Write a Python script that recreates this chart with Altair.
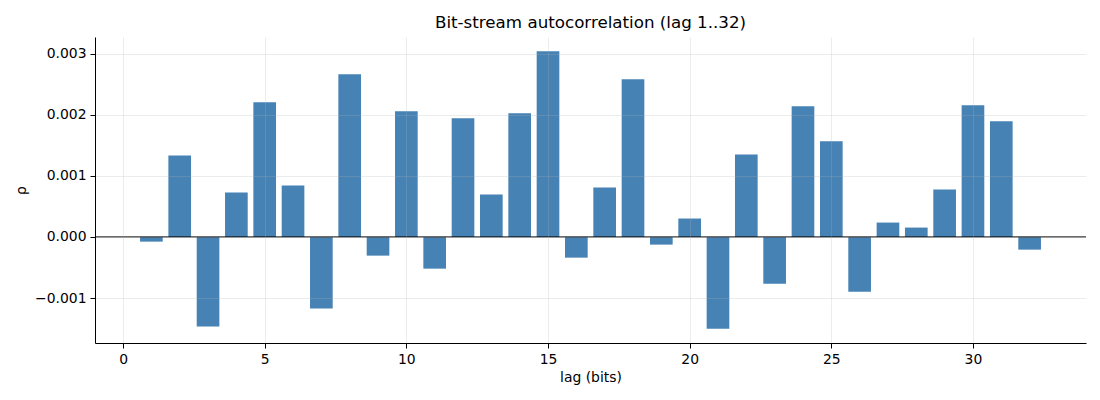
import altair as alt
import pandas as pd

lags = list(range(1, 33))
rho = [
    -0.077e-3, 1.333e-3, -1.464e-3, 0.727e-3, 2.202e-3, 0.842e-3, -1.169e-3, 2.661e-3,
    -0.306e-3, 2.055e-3, -0.519e-3, 1.940e-3, 0.694e-3, 2.022e-3, 3.038e-3, -0.339e-3,
    0.809e-3, 2.579e-3, -0.126e-3, 0.301e-3, -1.503e-3, 1.350e-3, -0.765e-3, 2.137e-3,
    1.563e-3, -0.896e-3, 0.235e-3, 0.153e-3, 0.776e-3, 2.153e-3, 1.891e-3, -0.208e-3,
]
x_ticks = [0, 5, 10, 15, 20, 25, 30]
y_ticks = [-0.001, 0.0, 0.001, 0.002, 0.003]

df = pd.DataFrame({"lag": lags, "rho": rho})

FONT = "DejaVu Sans"

xscale = alt.Scale(domain=[-0.99, 33.99], nice=False, zero=False)
yscale = alt.Scale(domain=[-0.001735, 0.00327], nice=False, zero=False)

bars = alt.Chart(df).transform_calculate(
    x0="datum.lag - 0.4", x1="datum.lag + 0.4"
).mark_bar(color="#4682b4", cornerRadius=0).encode(
    x=alt.X("x0:Q", scale=xscale,
            axis=alt.Axis(values=x_ticks, format="d", title="lag (bits)",
                          grid=True, zindex=1)),
    x2="x1:Q",
    y=alt.Y("rho:Q", scale=yscale,
            axis=alt.Axis(values=y_ticks, format=".3f", title="ρ",
                          grid=True, zindex=1)),
    y2=alt.datum(0),
)

zero = alt.Chart(pd.DataFrame({"z": [0.0]})).mark_rule(
    color="black", strokeWidth=1
).encode(y=alt.Y("z:Q", scale=yscale))

chart = alt.layer(bars, zero).properties(
    width=991,
    height=306,
    title=alt.TitleParams("Bit-stream autocorrelation (lag 1..32)",
                          font=FONT, fontSize=16.7, fontWeight="normal",
                          color="black", offset=5),
    autosize=alt.AutoSizeParams(type="none"),
    padding={"left": 87, "top": 29, "right": 2, "bottom": 50},
).configure_view(stroke=None).configure_axis(
    labelFont=FONT, titleFont=FONT, labelFontSize=13.9, titleFontSize=13.9,
    labelColor="black", titleColor="black", titleFontWeight="normal",
    domainColor="black", domainWidth=1, tickColor="black", tickWidth=1,
    tickSize=5, labelPadding=4,
    gridColor="#b0b0b0", gridOpacity=0.3, gridWidth=0.8,
).configure_axisX(titlePadding=5).configure_axisY(titlePadding=6)

chart.save("out.html", embed_options={"renderer": "svg", "actions": False})
